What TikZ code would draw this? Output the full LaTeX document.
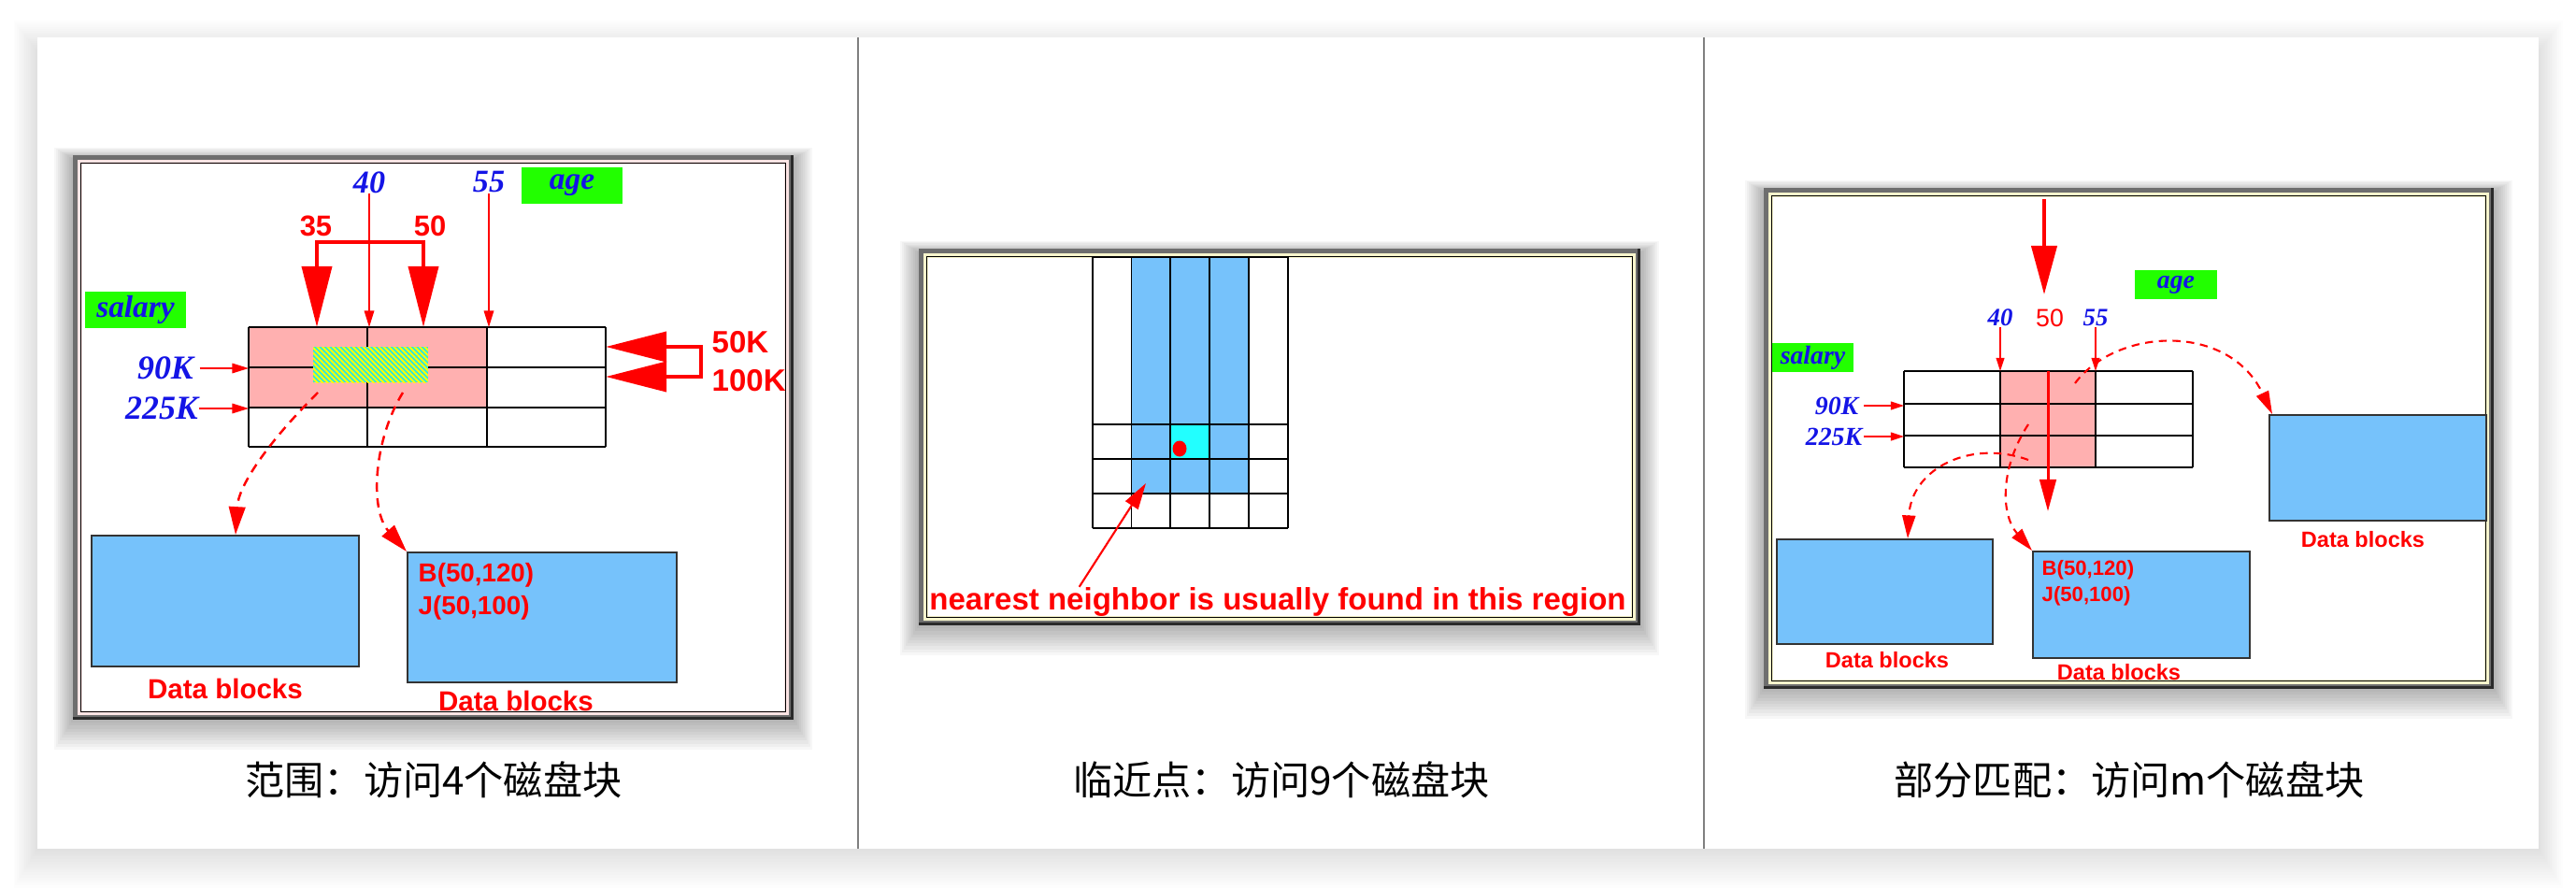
\documentclass[tikz,border=0pt]{standalone}
\usepackage{fontspec}
\usepackage{tikz}
\usetikzlibrary{arrows.meta, positioning, calc, patterns.meta}
\newfontfamily\lsans{Liberation Sans}
\newfontfamily\lserif{Liberation Serif}
\newfontfamily\cjk{Noto Sans CJK SC}
\definecolor{frgray}{HTML}{6E6E6E}
\definecolor{frdark}{HTML}{2B2B2B}
\definecolor{frpink}{HTML}{FCE4E4}
\definecolor{frcream}{HTML}{F7F5CC}
\definecolor{sepgray}{HTML}{808080}
\definecolor{hitpink}{HTML}{FFB0B0}
\definecolor{blkblue}{HTML}{76C2FB}
\definecolor{lblgreen}{HTML}{22FF00}
\definecolor{lblblue}{HTML}{1414E6}
\definecolor{ptred}{HTML}{FF0000}
\definecolor{hitcyan}{HTML}{22FFFF}
\definecolor{hatchbase}{HTML}{2CE6E0}
\definecolor{dkgray}{HTML}{333333}

\begin{document}
\begin{tikzpicture}[
    keyval/.style={text=lblblue, inner sep=0pt, font=\lserif\bfseries\itshape\fontsize{#1}{#1}\selectfont},
    attr/.style={fill=lblgreen, text=lblblue, inner sep=0pt, font=\lserif\bfseries\itshape\fontsize{#1}{#1}\selectfont},
    redlbl/.style={text=ptred, inner sep=0pt, font=\lsans\bfseries\fontsize{#1}{#1}\selectfont},
    captxt/.style={inner sep=0pt, font=\cjk\fontsize{12}{14}\selectfont},
    datablk/.style={draw=dkgray, fill=blkblue, line width=0.55pt, anchor=north west, inner sep=0pt},
    gridln/.style={draw=black, line width=0.5pt},
    ptr/.style={-{Triangle[length=5pt, width=3pt]}, ptred, line width=0.45pt},
    ptrs/.style={-{Triangle[length=4pt, width=2.5pt]}, ptred, line width=0.4pt},
    probe/.style={-{Triangle[length=8.5pt, width=5pt]}, ptred, line width=0.7pt, dash pattern=on 2.8pt off 2pt},
    probes/.style={-{Triangle[length=7pt, width=4pt]}, ptred, line width=0.6pt, dash pattern=on 2.4pt off 1.8pt}
]
\useasboundingbox (0,0) rectangle (27.56,-9.50);
\fill[white] (0,0) rectangle (27.56,-9.50);

% ===== CARD + SEPARATORS =====
\foreach \k in {1,...,15}
    \fill[black, opacity=0.009] (0.40-0.017*\k, -0.55+0.022*\k) rectangle (27.16+0.017*\k, -9.08-0.028*\k);
\fill[white] (0.40,-0.40) rectangle (27.16,-9.08);
\draw[sepgray, line width=0.45pt] (9.18,-0.40) -- (9.18,-9.08);
\draw[sepgray, line width=0.45pt] (18.23,-0.40) -- (18.23,-9.08);

% panel frames with soft shadow
\foreach \xa/\ya/\xb/\yb/\band in {0.78/-1.66/8.49/-7.70/frpink, 9.83/-2.66/17.55/-6.69/frcream, 18.87/-2.01/26.68/-7.37/frcream} {
    \foreach \k in {1,...,10}
        \fill[black, opacity=0.032] (\xa-0.02*\k, \ya+0.012*\k-0.04) rectangle (\xb+0.02*\k, \yb-0.032*\k);
    \fill[frdark] (\xa,\ya) rectangle (\xb,\yb);
    \fill[frgray] (\xa,\ya) rectangle (\xb-0.03,\yb+0.03);
    \fill[\band] (\xa+0.05,\ya-0.05) rectangle (\xb-0.05,\yb+0.05);
    \draw[black, line width=0.3pt] (\xa+0.085,\ya-0.085) rectangle (\xb-0.085,\yb+0.085);
    \fill[white] (\xa+0.1,\ya-0.1) rectangle (\xb-0.1,\yb+0.1);
}

% ===== LEFT PANEL: range query =====
\fill[hitpink] (2.66,-3.50) rectangle (5.21,-4.36);
\foreach \x in {2.66, 3.93, 5.21, 6.48}
    \draw[gridln] (\x,-3.50) -- (\x,-4.78);
\foreach \y in {-3.50, -3.93, -4.36, -4.78}
    \draw[gridln] (2.66,\y) -- (6.48,\y);
\fill[hatchbase] (3.35,-3.71) rectangle (4.58,-4.09);
\fill[pattern={Lines[angle=-45, distance=1.1pt, line width=0.55pt]}, pattern color=yellow]
    (3.35,-3.71) rectangle (4.58,-4.09);
\coordinate (ga) at (2.66,-3.50);
\coordinate (gb) at (6.48,-3.50);

\node[keyval=9.7] (k40) at (3.95,-1.95) {40};
\node[keyval=9.7] (k55) at (5.23,-1.95) {55};
\node[attr=9.5, minimum width=1.08cm, minimum height=0.39cm] (age1) at (6.12,-1.985) {age};
\node[attr=9.5, minimum width=1.08cm, minimum height=0.39cm] (sal1) at (1.45,-3.315) {salary};
\node[redlbl=8.8] (r35) at (3.38,-2.42) {35};
\node[redlbl=8.8] (r50) at (4.60,-2.42) {50};
\node[keyval=10.2] (k90) at (1.77,-3.94) {90K};
\node[keyval=10.2] (k225) at (1.73,-4.37) {225K};
\node[redlbl=9.4, anchor=west] (s50) at (7.61,-3.66) {50K};
\node[redlbl=9.4, anchor=west] (s100) at (7.61,-4.07) {100K};

\draw[ptr] (k40.south) -- (k40.south |- ga);
\draw[ptr] (k55.south) -- (k55.south |- ga);
\draw[ptr] ([xshift=0.06cm]k90.east) -- (k90.east -| ga);
\draw[ptr] (k225.east) -- (k225.east -| ga);

% age range 35..50
\coordinate (b35) at (3.39,-2.59);
\coordinate (b50) at (4.53,-2.59);
\draw[ptred, line width=1.4pt, {Triangle[length=18.5pt, width=9pt]}-{Triangle[length=18.5pt, width=9pt]}]
    (b35 |- ga) -- (b35) -- (b50) -- (b50 |- ga);
% salary range 50K..100K
\coordinate (c50) at (7.50,-3.71);
\coordinate (c100) at (7.50,-4.03);
\draw[ptred, line width=1.4pt, {Triangle[length=18.5pt, width=9pt]}-{Triangle[length=18.5pt, width=9pt]}]
    (c50 -| gb) -- (c50) -- (c100) -- (c100 -| gb);

\node[datablk, minimum width=2.86cm, minimum height=1.40cm] (db1) at (0.97,-5.72) {};
\node[redlbl=8.4, below=0.11cm of db1] (dbl1) {Data blocks};
\node[datablk, minimum width=2.88cm, minimum height=1.39cm] (db2) at (4.35,-5.90) {};
\node[redlbl=7.9, anchor=west] (rb1) at (4.47,-6.15) {B(50,120)};
\node[redlbl=7.9, anchor=west] (rj1) at (4.47,-6.50) {J(50,100)};
\node[redlbl=8.4] (dbl2) at (5.52,-7.50) {Data blocks};

\coordinate (hit1) at (3.40,-4.20);
\coordinate (hit2) at (4.31,-4.20);
\draw[probe] (hit1) .. controls (2.85,-4.75) and (2.55,-5.20) .. ([xshift=1.55cm]db1.north west);
\draw[probe] (hit2) .. controls (4.00,-4.70) and (3.95,-5.45) .. (db2.north west);

% ===== MIDDLE PANEL: nearest neighbour =====
\fill[blkblue] (12.105,-2.75) rectangle (13.36,-5.28);
\fill[hitcyan] (12.52,-4.54) rectangle (12.94,-4.91);
\foreach \x in {11.69, 12.105, 12.52, 12.94, 13.36, 13.78}
    \draw[gridln] (\x,-2.75) -- (\x,-5.65);
\foreach \y in {-2.75, -4.54, -4.91, -5.28, -5.65}
    \draw[gridln] (11.69,\y) -- (13.78,\y);
\fill[ptred] (12.62,-4.80) ellipse (0.075 and 0.085);

\node[redlbl=9.4] (nn) at (13.67,-6.44) {nearest neighbor is usually found in this region};
\coordinate (nnhit) at (12.26,-5.17);
\draw[ptred, line width=0.6pt, -{Triangle[length=8pt, width=4.5pt]}] ([xshift=1.61cm]nn.north west) -- (nnhit);

% ===== RIGHT PANEL: partial match =====
\fill[hitpink] (21.40,-3.97) rectangle (22.42,-5.00);
\foreach \x in {20.37, 21.40, 22.42, 23.46}
    \draw[gridln] (\x,-3.97) -- (\x,-5.00);
\foreach \y in {-3.97, -4.32, -4.66, -5.00}
    \draw[gridln] (20.37,\y) -- (23.46,\y);
\coordinate (gc) at (20.37,-3.97);

\node[keyval=7.6] (p40) at (21.40,-3.40) {40};
\node[redlbl=7.6, font=\lsans\fontsize{7.6}{7.6}\selectfont] (p50) at (21.93,-3.40) {50};
\node[keyval=7.6] (p55) at (22.42,-3.40) {55};
\node[attr=7.9, minimum width=0.88cm, minimum height=0.31cm] (age3) at (23.28,-3.045) {age};
\node[attr=7.9, minimum width=0.87cm, minimum height=0.31cm] (sal3) at (19.395,-3.825) {salary};
\node[keyval=7.9] (q90) at (19.65,-4.34) {90K};
\node[keyval=7.9] (q225) at (19.62,-4.67) {225K};

\draw[ptrs] (p40.south) -- (p40.south |- gc);
\draw[ptrs] (p55.south) -- (p55.south |- gc);
\draw[ptrs] ([xshift=0.05cm]q90.east) -- (q90.east -| gc);
\draw[ptrs] ([xshift=0.01cm]q225.east) -- (q225.east -| gc);

\coordinate (m50a) at (21.87,-2.13);
\coordinate (m50b) at (21.87,-3.15);
\draw[ptred, line width=1.1pt, -{Triangle[length=14.8pt, width=7.7pt]}] (m50a) -- (m50b);
\coordinate (m50c) at (21.91,-3.97);
\coordinate (m50d) at (21.91,-5.47);
\draw[ptred, line width=0.85pt, -{Triangle[length=9.7pt, width=5pt]}] (m50c) -- (m50d);

\node[datablk, minimum width=2.31cm, minimum height=1.12cm] (db4) at (19.00,-5.76) {};
\node[redlbl=6.7] (dbl4) at (20.19,-7.06) {Data blocks};
\node[datablk, minimum width=2.32cm, minimum height=1.14cm] (db5) at (21.74,-5.89) {};
\node[redlbl=6.3, anchor=west] (rb5) at (21.84,-6.10) {B(50,120)};
\node[redlbl=6.3, anchor=west] (rj5) at (21.84,-6.38) {J(50,100)};
\node[redlbl=6.7] (dbl5) at (22.67,-7.19) {Data blocks};
\node[datablk, minimum width=2.32cm, minimum height=1.13cm] (db6) at (24.27,-4.43) {};
\node[redlbl=6.7] (dbl6) at (25.28,-5.77) {Data blocks};

\coordinate (hit3) at (22.20,-4.10);
\coordinate (hit4) at (21.70,-4.92);
\coordinate (hit5) at (21.70,-4.54);
\draw[probes] (hit3) .. controls (22.65,-3.50) and (23.85,-3.45) .. ([xshift=0.04cm]db6.north west);
\draw[probes] (hit4) .. controls (21.10,-4.70) and (20.45,-5.00) .. ([xshift=1.41cm]db4.north west);
\draw[probes] (hit5) .. controls (21.40,-5.00) and (21.40,-5.50) .. (db5.north west);

% ===== CAPTIONS =====
\node[captxt] (cap1) at (4.64,-8.34) {范围：访问4个磁盘块};
\node[captxt] (cap2) at (13.71,-8.34) {临近点：访问9个磁盘块};
\node[captxt] (cap3) at (22.78,-8.34) {部分匹配：访问m个磁盘块};

\end{tikzpicture}
\end{document}
